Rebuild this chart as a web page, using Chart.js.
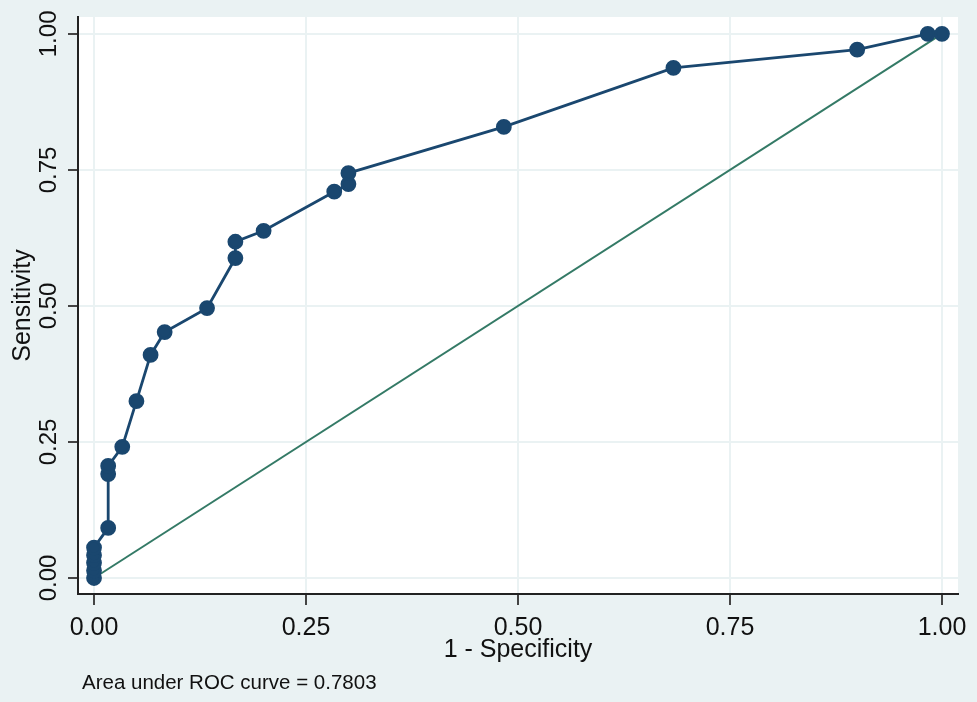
<!DOCTYPE html>
<html>
<head>
<meta charset="utf-8">
<script src="https://cdn.jsdelivr.net/npm/chart.js@4"></script>
<style>
  html, body { margin: 0; padding: 0; background: #EAF2F3; overflow: hidden; }
  canvas { display: block; }
</style>
</head>
<body>
<canvas id="roc" width="977" height="702"></canvas>
<script>
// ROC curve points (1 - specificity, sensitivity)
const fpr = [0, 0, 0, 0, 0, 0.0167, 0.0167, 0.0167, 0.0333, 0.05, 0.0667, 0.0833, 0.1333, 0.1667, 0.1667, 0.2, 0.2833, 0.3, 0.3, 0.4833, 0.6833, 0.9, 0.9833, 1];
const tpr = [0, 0.014, 0.028, 0.042, 0.056, 0.092, 0.191, 0.206, 0.241, 0.325, 0.41, 0.452, 0.496, 0.588, 0.618, 0.638, 0.71, 0.724, 0.744, 0.829, 0.9375, 0.971, 1, 1];
const refX = [0, 1];
const refY = [0, 1];
const tickVals = [0, 0.25, 0.5, 0.75, 1];
const noteText = "Area under ROC curve = 0.7803";

const font = "'Liberation Sans', Arial, sans-serif";

const fondo = {
  id: "fondo",
  beforeDraw(chart) {
    const { ctx, chartArea: a } = chart;
    ctx.save();
    ctx.fillStyle = "#EAF2F3";
    ctx.fillRect(0, 0, chart.width, chart.height);
    ctx.fillStyle = "#ffffff";
    ctx.fillRect(a.left, a.top, a.right - a.left, a.bottom - a.top);
    ctx.restore();
  },
  afterDraw(chart) {
    const ctx = chart.ctx;
    ctx.save();
    ctx.fillStyle = "#111";
    ctx.font = "20.5px " + font;
    ctx.textBaseline = "middle";
    ctx.fillText(noteText, 82, 683);
    ctx.restore();
  }
};

const ticksFijos = (scale) => {
  scale.ticks = tickVals.map(v => ({ value: v }));
};

new Chart(document.getElementById("roc"), {
  type: "scatter",
  data: {
    datasets: [
      {
        data: fpr.map((x, i) => ({ x: x, y: tpr[i] })),
        showLine: true,
        borderColor: "#1A476F",
        backgroundColor: "#1A476F",
        borderWidth: 2.8,
        pointRadius: 6.5,
        pointHoverRadius: 6.5,
        order: 1
      },
      {
        data: refX.map((x, i) => ({ x: x, y: refY[i] })),
        showLine: true,
        borderColor: "#347A66",
        borderWidth: 2,
        pointRadius: 0,
        order: 2
      }
    ]
  },
  options: {
    responsive: false,
    animation: false,
    devicePixelRatio: 1,
    layout: { padding: { top: 17, right: 19, left: 0, bottom: 37 } },
    plugins: {
      legend: { display: false },
      tooltip: { enabled: false }
    },
    scales: {
      x: {
        type: "linear",
        min: -0.0189,
        max: 1.0189,
        afterBuildTicks: ticksFijos,
        afterFit: (s) => { s.height = 71; },
        grid: { color: "#EAF2F3", lineWidth: 2, tickColor: "#444", tickLength: 11, tickWidth: 2 },
        border: { color: "#222", width: 2 },
        ticks: {
          color: "#111",
          font: { family: font, size: 25 },
          padding: 8,
          maxRotation: 0,
          callback: (v) => v.toFixed(2)
        },
        title: {
          display: true,
          text: "1 - Specificity",
          color: "#111",
          font: { family: font, size: 25 },
          padding: 0
        }
      },
      y: {
        type: "linear",
        min: -0.0294,
        max: 1.031,
        afterBuildTicks: ticksFijos,
        afterFit: (s) => { s.width = 78; },
        grid: { color: "#EAF2F3", lineWidth: 2, tickColor: "#444", tickLength: 10, tickWidth: 2 },
        border: { color: "#222", width: 2 },
        ticks: {
          color: "#111",
          font: { family: font, size: 24 },
          padding: -5,
          crossAlign: "center",
          minRotation: 90,
          maxRotation: 90,
          callback: (v) => v.toFixed(2)
        },
        title: {
          display: true,
          text: "Sensitivity",
          color: "#111",
          font: { family: font, size: 25 },
          padding: { top: 8, bottom: 0 }
        }
      }
    }
  },
  plugins: [fondo]
});
</script>
</body>
</html>
